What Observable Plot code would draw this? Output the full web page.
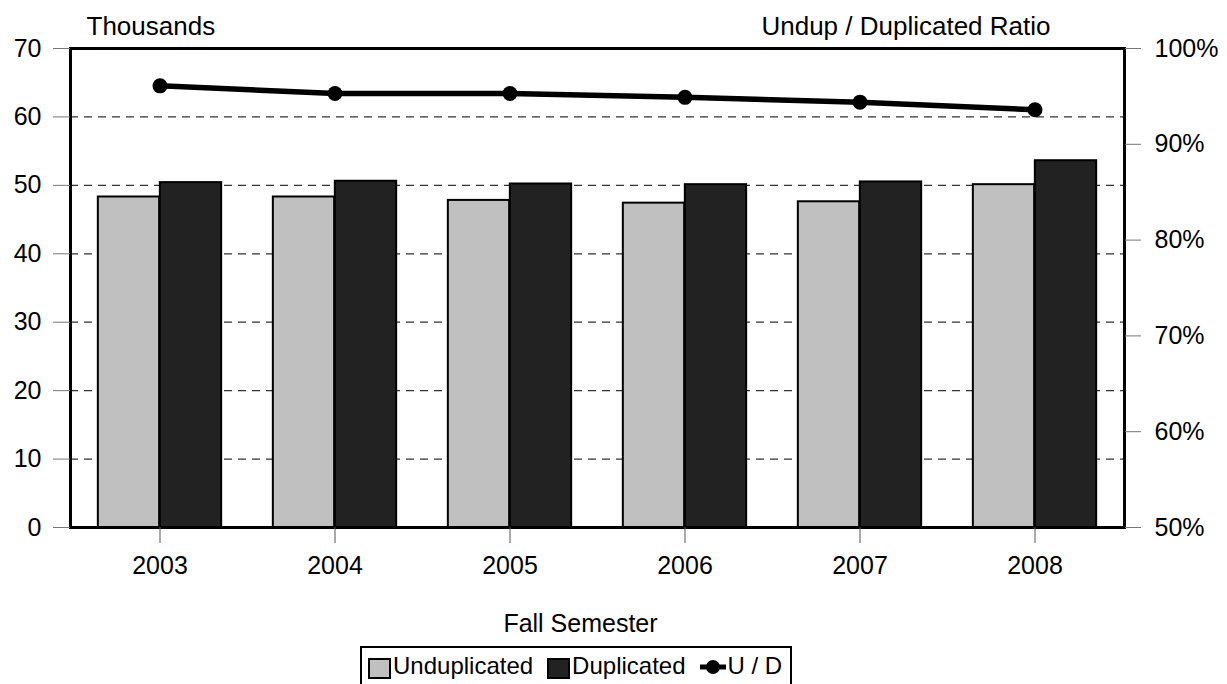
<!DOCTYPE html>
<html><head><meta charset="utf-8">
<script src="https://cdn.jsdelivr.net/npm/d3@7"></script>
<script src="https://cdn.jsdelivr.net/npm/@observablehq/plot@0.6"></script>
<style>
body{margin:0;background:#fff;font-family:"Liberation Sans",Arial,sans-serif;}
#wrap{position:relative;width:1227px;height:684px;overflow:hidden;}
#legend{position:absolute;left:360px;top:646px;height:60px;border:2px solid #000;box-sizing:border-box;padding:4px 8px 0 6px;display:flex;align-items:flex-start;font-size:24px;color:#000;white-space:nowrap;}
.sw{display:inline-block;width:19px;height:17px;border:2px solid #000;margin-top:6px;margin-right:2px;}
.item{display:flex;align-items:flex-start;margin-right:14px;}
</style></head><body><div id="wrap"><div id="chart"></div><div id="legend"></div></div>
<script>
const years = ["2003", "2004", "2005", "2006", "2007", "2008"];
const unduplicated = [48.3, 48.3, 47.8, 47.4, 47.6, 50.1];
const duplicated = [50.4, 50.6, 50.2, 50.1, 50.5, 53.6];
const ratio = [96.1, 95.3, 95.3, 94.9, 94.4, 93.6];
const leftTicks = [0, 10, 20, 30, 40, 50, 60, 70];
const gridTicks = [10, 20, 30, 40, 50, 60];
const rightTicks = [50, 60, 70, 80, 90, 100];
const seriesNames = ["Unduplicated", "Duplicated", "U / D"];
const seriesColors = ["#c0c0c0", "#222222", "#000000"];

const W = 1227, H = 645, mL = 70, mR = 103, mT = 48, mB = 118;
const yMax = 70;
const toY = r => (r - 50) / 50 * yMax;
const bw = (W - mL - mR) / years.length;
const half = bw / 2, barW = 62;

const rows = years.map((y, i) => ({year: y, u: unduplicated[i], d: duplicated[i], r: toY(ratio[i])}));

const chart = Plot.plot({
  width: W, height: H,
  marginLeft: mL, marginRight: mR, marginTop: mT, marginBottom: mB,
  style: {fontFamily: "Liberation Sans, Arial, sans-serif", fontSize: "25px", color: "#000", background: "#fff"},
  x: {type: "band", domain: years, padding: 0},
  y: {domain: [0, yMax]},
  marks: [
    Plot.ruleY(gridTicks, {stroke: "#333", strokeWidth: 1.3, strokeDasharray: "8,6"}),
    Plot.barY(rows, {x: "year", y: "u", fill: seriesColors[0], stroke: "#000", strokeWidth: 2, insetLeft: half - barW, insetRight: half}),
    Plot.barY(rows, {x: "year", y: "d", fill: seriesColors[1], stroke: "#000", strokeWidth: 2, insetLeft: half, insetRight: half - barW}),
    Plot.line(rows, {x: "year", y: "r", stroke: "#000", strokeWidth: 5.5}),
    Plot.dot(rows, {x: "year", y: "r", r: 7.5, fill: "#000"}),
    Plot.frame({stroke: "#000", strokeWidth: 3}),
    Plot.axisY(leftTicks, {anchor: "left", tickSize: 17, tickPadding: 12, stroke: "#777", fill: "#000", fontSize: 25, label: null}),
    Plot.axisY(rightTicks.map(toY), {anchor: "right", tickSize: 16, tickPadding: 14, stroke: "#777", fill: "#000", fontSize: 25, label: null,
      tickFormat: v => Math.round(50 + v / yMax * 50) + "%"}),
    Plot.axisX({anchor: "bottom", tickSize: 16, tickPadding: 13, stroke: "#555", fill: "#000", fontSize: 25, label: null}),
    Plot.text(["Thousands"], {frameAnchor: "top-left", dx: 16, dy: -14, textAnchor: "start", lineAnchor: "bottom", fontSize: 26, fill: "#000"}),
    Plot.text(["Undup / Duplicated Ratio"], {frameAnchor: "top-right", dx: -74, dy: -14, textAnchor: "end", lineAnchor: "bottom", fontSize: 26, fill: "#000"}),
    Plot.text(["Fall Semester"], {frameAnchor: "bottom", dx: -17, dy: 104, lineAnchor: "bottom", fontSize: 25, fill: "#000"})
  ]
});
document.getElementById("chart").appendChild(chart);

const lg = document.getElementById("legend");
seriesNames.forEach((name, i) => {
  const it = document.createElement("div");
  it.className = "item";
  if (i < 2) {
    const s = document.createElement("span");
    s.className = "sw"; s.style.background = seriesColors[i];
    it.appendChild(s);
  } else {
    it.innerHTML = '<svg width="26" height="30" style="margin-right:2px"><line x1="0" y1="15" x2="26" y2="15" stroke="#000" stroke-width="5"/><circle cx="13" cy="15" r="7" fill="#000"/></svg>';
    it.style.marginRight = "0";
  }
  const t = document.createElement("span");
  t.textContent = name;
  it.appendChild(t);
  lg.appendChild(it);
});
</script></body></html>
